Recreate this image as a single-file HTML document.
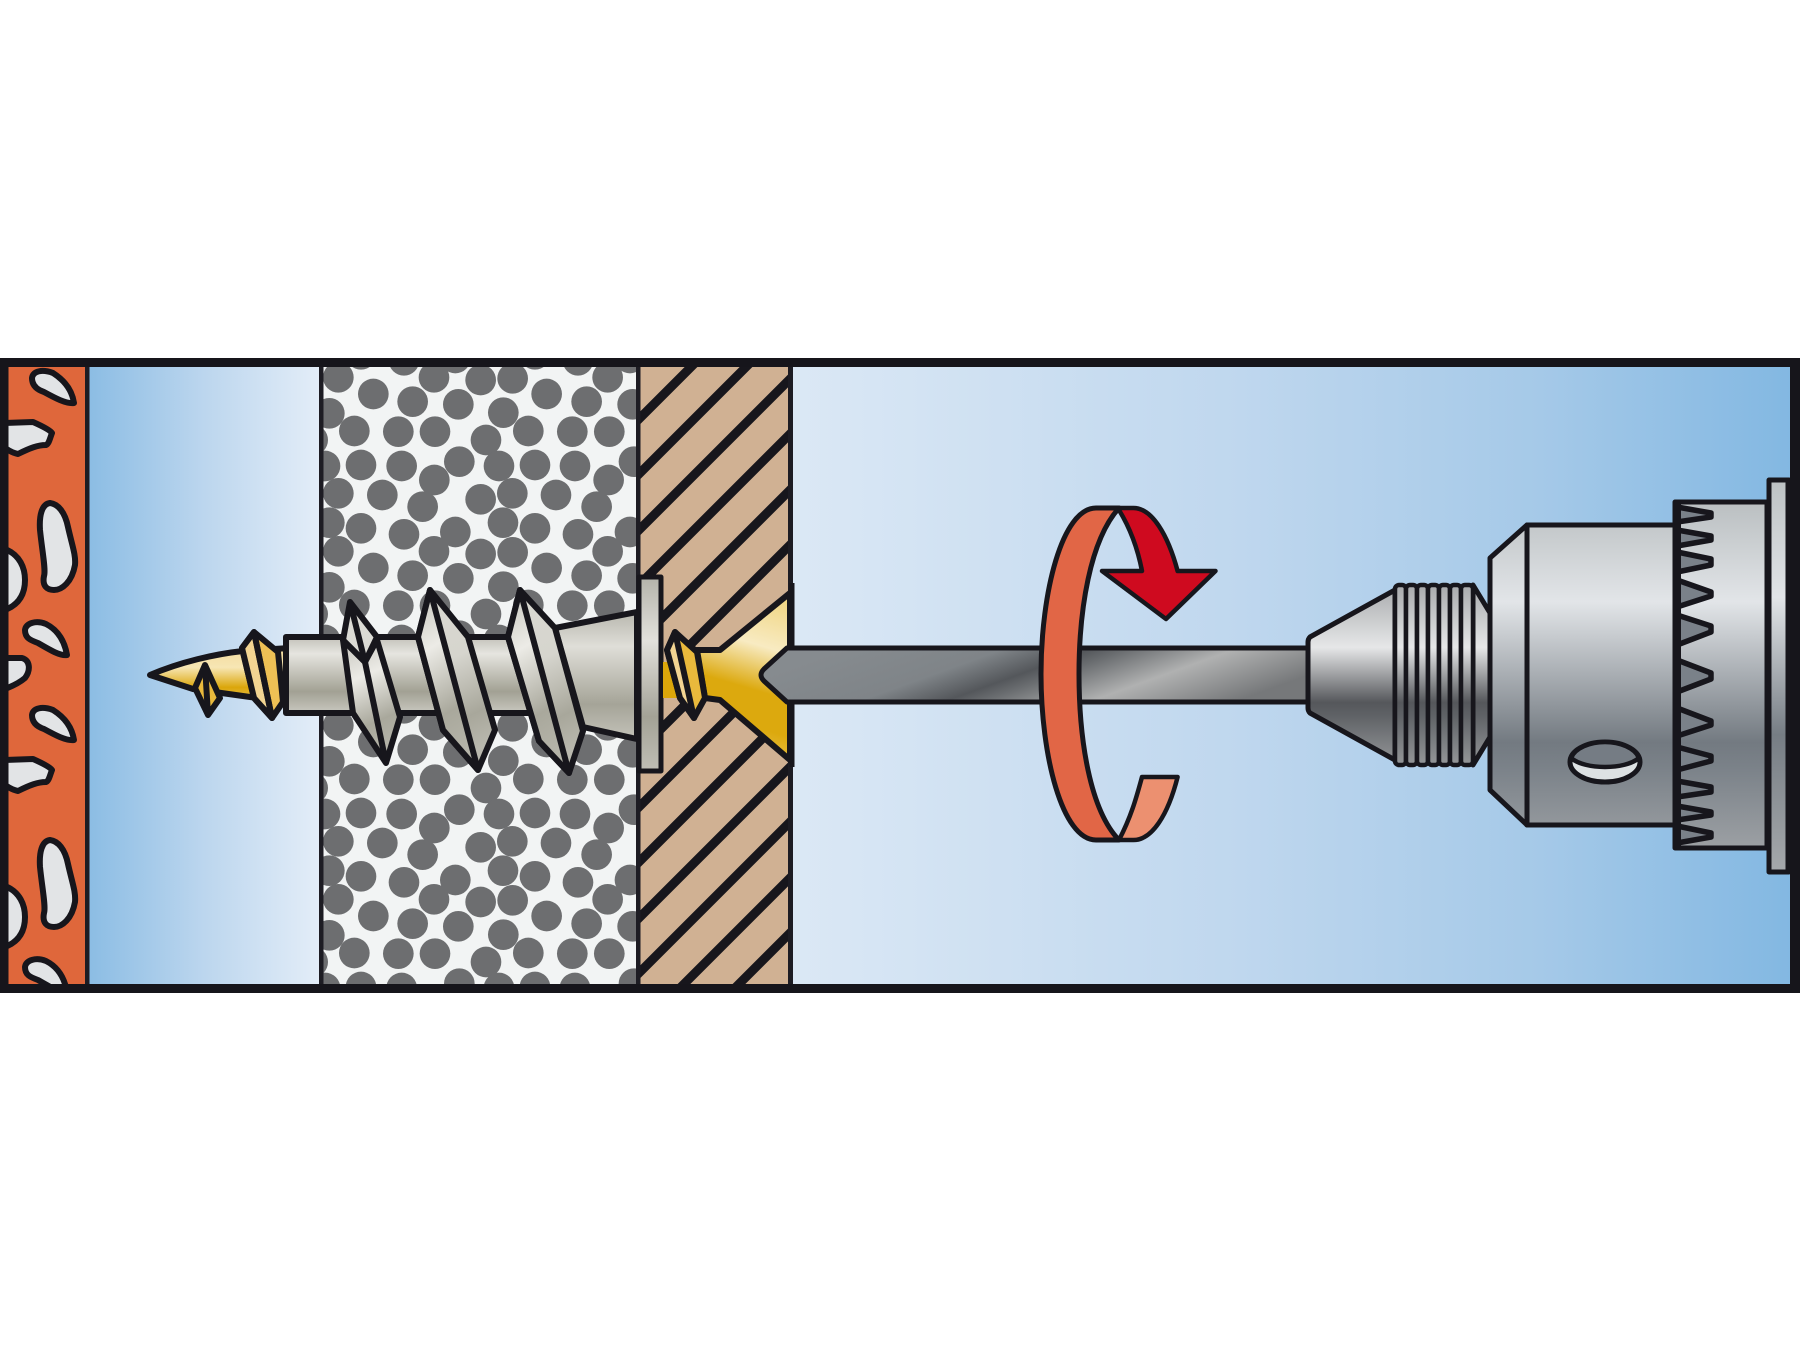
<!DOCTYPE html>
<html><head><meta charset="utf-8"><style>html,body{margin:0;padding:0;background:#fff}svg{display:block}</style></head><body>
<svg xmlns="http://www.w3.org/2000/svg" width="1800" height="1350" viewBox="0 0 1800 1350">
<defs>
<linearGradient id="b1" x1="90" x2="319" y1="0" y2="0" gradientUnits="userSpaceOnUse"><stop offset="0" stop-color="#8cbde4"/><stop offset=".5" stop-color="#bcd6ee"/><stop offset="1" stop-color="#e3edf8"/></linearGradient>
<linearGradient id="b2" x1="793" x2="1790" y1="0" y2="0" gradientUnits="userSpaceOnUse"><stop offset="0" stop-color="#dbe8f5"/><stop offset=".45" stop-color="#bfd7ee"/><stop offset=".75" stop-color="#a5c9e8"/><stop offset="1" stop-color="#83b8e2"/></linearGradient>
<linearGradient id="gold" x1="0" x2="0" y1="650" y2="700" gradientUnits="userSpaceOnUse"><stop offset="0" stop-color="#f3dc9f"/><stop offset=".35" stop-color="#f7e6b4"/><stop offset=".75" stop-color="#dba60a"/><stop offset="1" stop-color="#e8c050"/></linearGradient>
<linearGradient id="goldh" x1="760" y1="590" x2="710" y2="760" gradientUnits="userSpaceOnUse"><stop offset="0" stop-color="#f0d480"/><stop offset=".3" stop-color="#f8ebc2"/><stop offset=".55" stop-color="#dca90e"/><stop offset=".75" stop-color="#dca90e"/><stop offset="1" stop-color="#edcb62"/></linearGradient>
<linearGradient id="st" x1="0" x2="0" y1="637" y2="713" gradientUnits="userSpaceOnUse"><stop offset="0" stop-color="#c2c1b9"/><stop offset=".22" stop-color="#e6e5e0"/><stop offset=".72" stop-color="#a2a194"/><stop offset="1" stop-color="#c9c8c0"/></linearGradient>
<linearGradient id="cone" x1="0" x2="0" y1="612" y2="740" gradientUnits="userSpaceOnUse"><stop offset="0" stop-color="#b8b7ae"/><stop offset=".27" stop-color="#dfded8"/><stop offset=".72" stop-color="#a5a498"/><stop offset="1" stop-color="#c4c3ba"/></linearGradient>
<linearGradient id="fl" x1="0" x2="0" y1="577" y2="771" gradientUnits="userSpaceOnUse"><stop offset="0" stop-color="#b4b3aa"/><stop offset=".33" stop-color="#e2e1dc"/><stop offset=".72" stop-color="#a3a296"/><stop offset="1" stop-color="#c0bfb6"/></linearGradient>
<linearGradient id="th1" x1="0" y1="0" x2=".2" y2="1"><stop offset="0" stop-color="#c5c4bc"/><stop offset=".35" stop-color="#ecebe6"/><stop offset=".75" stop-color="#a9a89c"/><stop offset="1" stop-color="#b5b4a9"/></linearGradient>
<linearGradient id="th2" x1="0" y1="0" x2=".2" y2="1"><stop offset="0" stop-color="#dad9d2"/><stop offset=".45" stop-color="#d6d5ce"/><stop offset=".8" stop-color="#a8a79b"/><stop offset="1" stop-color="#b9b8ae"/></linearGradient>
<linearGradient id="bit" x1="770" y1="675" x2="832" y2="847" gradientUnits="userSpaceOnUse"><stop offset="0" stop-color="#868b8f"/><stop offset=".3" stop-color="#7f8488"/><stop offset=".46" stop-color="#54575b"/><stop offset=".53" stop-color="#6a6d70"/><stop offset=".73" stop-color="#b0b1b1"/><stop offset="1" stop-color="#76787a"/></linearGradient>
<linearGradient id="nose" x1="0" x2="0" y1="583" y2="767" gradientUnits="userSpaceOnUse"><stop offset="0" stop-color="#a6a8aa"/><stop offset=".35" stop-color="#e6e7e8"/><stop offset=".65" stop-color="#55575b"/><stop offset=".72" stop-color="#5f6266"/><stop offset="1" stop-color="#97999b"/></linearGradient>
<linearGradient id="col" x1="0" x2="0" y1="502" y2="872" gradientUnits="userSpaceOnUse"><stop offset="0" stop-color="#babfc1"/><stop offset=".27" stop-color="#e2e5e8"/><stop offset=".65" stop-color="#737a81"/><stop offset=".72" stop-color="#7b8289"/><stop offset="1" stop-color="#a6a9ac"/></linearGradient>
<linearGradient id="bk" x1="0" x2="0" y1="480" y2="872" gradientUnits="userSpaceOnUse"><stop offset="0" stop-color="#bcc1c3"/><stop offset=".3" stop-color="#e2e5e8"/><stop offset=".65" stop-color="#767d84"/><stop offset="1" stop-color="#a6a9ac"/></linearGradient>
<clipPath id="cg"><rect x="323" y="367" width="314" height="617"/></clipPath>
<clipPath id="cw"><rect x="640" y="367" width="150" height="617"/></clipPath>
<clipPath id="cb"><rect x="8" y="367" width="78" height="617"/></clipPath>
<g id="tile" fill="#6d6e70" transform="translate(320 360) scale(.3333)">
<circle cx="55" cy="52" r="46"/><circle cx="160" cy="102" r="46"/><circle cx="278" cy="125" r="46"/><circle cx="342" cy="52" r="46"/><circle cx="415" cy="133" r="46"/><circle cx="482" cy="60" r="46"/><circle cx="578" cy="55" r="46"/><circle cx="680" cy="102" r="46"/><circle cx="800" cy="125" r="46"/><circle cx="863" cy="52" r="46"/><circle cx="938" cy="133" r="46"/><circle cx="28" cy="160" r="46"/><circle cx="103" cy="213" r="46"/><circle cx="235" cy="215" r="46"/><circle cx="345" cy="215" r="46"/><circle cx="498" cy="240" r="46"/><circle cx="550" cy="158" r="46"/><circle cx="625" cy="213" r="46"/><circle cx="757" cy="215" r="46"/><circle cx="868" cy="215" r="46"/><circle cx="15" cy="318" r="46"/><circle cx="123" cy="315" r="46"/><circle cx="245" cy="318" r="46"/><circle cx="418" cy="305" r="46"/><circle cx="537" cy="318" r="46"/><circle cx="645" cy="315" r="46"/><circle cx="765" cy="318" r="46"/><circle cx="942" cy="305" r="46"/><circle cx="343" cy="360" r="46"/><circle cx="866" cy="360" r="46"/><circle cx="55" cy="400" r="46"/><circle cx="187" cy="405" r="46"/><circle cx="308" cy="440" r="46"/><circle cx="482" cy="418" r="46"/><circle cx="577" cy="400" r="46"/><circle cx="708" cy="405" r="46"/><circle cx="830" cy="440" r="46"/><circle cx="28" cy="488" r="46"/><circle cx="123" cy="505" r="46"/><circle cx="252" cy="523" r="46"/><circle cx="406" cy="516" r="46"/><circle cx="549" cy="488" r="46"/><circle cx="645" cy="505" r="46"/><circle cx="774" cy="523" r="46"/><circle cx="930" cy="516" r="46"/><circle cx="-22" cy="240" r="46"/>
</g>
<g id="stones" fill="#e2e4e6" stroke="#17161c" stroke-width="6" stroke-linejoin="round">
<path d="M32,18 C33,11 42,9 53,13 C64,20 72,30 74,43 C66,44 55,38 44,32 C38,30 32,26 32,18Z"/>
<path d="M5,63 L33,62 C42,66 50,70 52,73 C50,78 49,84 46,85 C38,85 30,88 18,94 C12,93 8,90 5,88Z"/>
<path d="M50,143 C58,144 65,152 68,167 C72,185 76,195 75,205 C72,222 62,230 54,230 C47,230 42,226 44,216 C46,210 42,190 40,170 C39,155 42,144 50,143Z"/>
<path d="M5,189 C20,195 25,208 25,220 C25,235 18,245 5,250Z"/>
<path d="M25,270 C26,263 36,260 46,264 C56,269 64,278 67,295 C60,296 50,290 38,283 C30,280 25,278 25,270Z"/>
<path d="M5,298 L22,298 C30,300 31,310 25,318 C18,324 10,327 5,329Z"/>
</g>
</defs>
<rect width="1800" height="1350" fill="#fff"/>
<!-- brick -->
<rect x="8" y="360" width="80" height="630" fill="#df673b"/>
<g clip-path="url(#cb)"><use href="#stones" transform="translate(0 360)"/><use href="#stones" transform="translate(0 697)"/></g>
<!-- blue -->
<rect x="88" y="360" width="233" height="630" fill="url(#b1)"/>
<rect x="790" y="360" width="1005" height="630" fill="url(#b2)"/>
<!-- gravel -->
<rect x="323" y="360" width="316" height="630" fill="#f2f4f4"/>
<g clip-path="url(#cg)">
<use href="#tile" y="-174"/><use href="#tile"/><use href="#tile" y="174"/><use href="#tile" y="348"/><use href="#tile" y="522"/>
</g>
<!-- wood -->
<rect x="638" y="360" width="152" height="630" fill="#d0b193"/>
<g clip-path="url(#cw)" stroke="#17161c" stroke-width="9">
<line x1="630" y1="428" x2="800" y2="258"/><line x1="630" y1="483" x2="800" y2="313"/><line x1="630" y1="539" x2="800" y2="369"/><line x1="630" y1="594" x2="800" y2="424"/><line x1="630" y1="650" x2="800" y2="480"/><line x1="630" y1="705" x2="800" y2="535"/><line x1="630" y1="760" x2="800" y2="590"/><line x1="630" y1="816" x2="800" y2="646"/><line x1="630" y1="871" x2="800" y2="701"/><line x1="630" y1="927" x2="800" y2="757"/><line x1="630" y1="982" x2="800" y2="812"/><line x1="630" y1="1038" x2="800" y2="868"/><line x1="630" y1="1093" x2="800" y2="923"/>
</g>
<!-- dividers -->
<g fill="#1d1c23"><rect x="85" y="360" width="4.5" height="630"/><rect x="319" y="360" width="4.5" height="630"/><rect x="636" y="360" width="4.5" height="630"/><rect x="788" y="360" width="5" height="630"/></g>
<!-- screw -->
<g stroke="#17161c" stroke-width="6" stroke-linejoin="round">
<path d="M150,675 C180,662 215,654 243,651 L290,648 L290,702 L250,697 L193,689 Z" fill="url(#gold)"/>
<path d="M205,665 L195,688 L208,715 L220,698 Z" fill="#e9b93c"/><line x1="205" y1="665" x2="208" y2="715"/>
<path d="M254,632 L242,648 L254,698 L272,718 L283,702 L278,652 Z" fill="#eec055"/>
<path d="M254,632 L242,648 L254,698 L272,718 Z" fill="#f2d492"/><line x1="254" y1="632" x2="272" y2="718"/>
<rect x="286" y="637" width="170" height="76" fill="url(#st)"/>
<rect x="440" y="637" width="150" height="76" fill="url(#st)"/>
<path d="M555,628 L637,612 L637,739 L583,727 Z" fill="url(#cone)"/>
<path d="M343,640 L353,713 L386,763 L400,717 L377,640 L365,662 Z" fill="url(#th1)"/>
<line x1="365" y1="662" x2="386" y2="763"/>
<path d="M343,640 L350,602 L377,637 L365,662 Z" fill="#dcdbd5"/><line x1="350" y1="602" x2="365" y2="662"/>
<path d="M430,590 L418,637 L443,730 L478,770 L495,730 L468,637 Z" fill="url(#th2)"/>
<path d="M430,590 L418,637 L443,730 L478,770 Z" fill="url(#th1)"/>
<path d="M520,590 L508,637 L539,741 L569,773 L583,731 L555,628 Z" fill="url(#th2)"/>
<path d="M520,590 L508,637 L539,741 L569,773 Z" fill="url(#th1)"/>
<rect x="639" y="577" width="22" height="194" fill="url(#fl)" stroke-width="5"/>
<!-- screw head -->
<path d="M663,662 L673,662 L680,698 L663,698 Z" fill="#dba60a" stroke="none"/>
<path d="M697,650 L720,650 L790,593 L790,760 L720,700 L705,698 Z" fill="url(#goldh)"/>
<path d="M675,632 L667,650 L680,698 L694,718 L705,698 L697,652 Z" fill="#e9b93c"/>
<path d="M675,632 L667,650 L680,698 L694,718 Z" fill="#f2d492"/>
<line x1="792" y1="583" x2="792" y2="767" stroke-width="5"/>
<!-- bit -->
<path d="M1310,648 L787,648 L764,669 Q758,675 764,681 L787,702 L1310,702 Z" fill="url(#bit)" stroke-width="5"/>
<!-- rotation arrow -->
<path d="M1119,840 C1132,815 1137,795 1142,777 L1177.6,777 C1168,815 1152,840 1133.5,840 Z" fill="#ec9070" stroke-width="4.5"/>
<path d="M1119,510 C1130,528 1138,550 1142,571 L1102,571 L1166,619 L1215.5,571 L1177.6,571 C1168,535 1152,508 1133.5,508 L1119,508 Z" fill="#cf0a1f" stroke-width="4.5"/>
<path d="M1096,508 L1119,508 C1090,540 1079,610 1079,674 C1079,740 1090,810 1119,840 L1096,840 C1062,840 1041,755 1041,674 C1041,593 1062,508 1096,508 Z" fill="#e16646" stroke-width="5"/>
<!-- chuck -->
<path d="M1473,585 L1490,613 L1490,737 L1473,765 Z" fill="url(#nose)" stroke-width="5"/>
<path d="M1395,590 L1310,637 Q1308,639 1308,642 L1308,708 Q1308,711 1310,713 L1395,760 Z" fill="url(#nose)" stroke-width="5"/>
<g fill="url(#nose)" stroke-width="4.5">
<rect x="1395" y="585" width="11" height="180" rx="4"/><rect x="1406" y="585" width="11" height="180" rx="4"/><rect x="1417" y="585" width="11" height="180" rx="4"/><rect x="1428" y="585" width="11" height="180" rx="4"/><rect x="1439" y="585" width="11" height="180" rx="4"/><rect x="1450" y="585" width="11" height="180" rx="4"/><rect x="1461" y="585" width="12" height="180" rx="4"/>
</g>
<path d="M1490,558 L1527,525 L1527,825 L1490,790 Z" fill="url(#col)" stroke-width="5"/>
<rect x="1527" y="525" width="148" height="300" fill="url(#col)" stroke-width="5"/>
<rect x="1675" y="502" width="92" height="346" fill="url(#col)" stroke-width="5"/>
<g fill="#7a8189" stroke-width="5.5">
<path d="M1677,507 L1711,513 L1711,517 L1677,522 Z"/>
<path d="M1677,530 L1711,536 L1711,540 L1677,546 Z"/>
<path d="M1677,552 L1711,559 L1711,565 L1677,572 Z"/>
<path d="M1677,580 L1711,592 L1711,596 L1677,607 Z"/>
<path d="M1677,615 L1711,626 L1711,632 L1677,645 Z"/>
<path d="M1677,660 L1711,673 L1711,679 L1677,692 Z"/>
<path d="M1677,708 L1711,721 L1711,725 L1677,736 Z"/>
<path d="M1677,747 L1711,756 L1711,761 L1677,770 Z"/>
<path d="M1677,781 L1711,787 L1711,792 L1677,797 Z"/>
<path d="M1677,806 L1711,812 L1711,815 L1677,820 Z"/>
<path d="M1677,826 L1711,833 L1711,837 L1677,843 Z"/>
</g>
<line x1="1677" y1="502" x2="1677" y2="848" stroke-width="8"/>
<rect x="1769" y="480" width="20" height="392" fill="url(#bk)" stroke-width="5"/>
<line x1="1787" y1="480" x2="1787" y2="872" stroke-width="3"/>
<ellipse cx="1605" cy="762" rx="35" ry="20" fill="#dde1e3" stroke-width="5"/>
<path d="M1571,758 C1575,748 1590,742 1605,742 C1620,742 1635,748 1639,758 C1625,770 1585,770 1571,758 Z" fill="#757c84" stroke-width="4.5"/>
</g>
<!-- frame -->
<g fill="#16151b"><rect x="0" y="358" width="1800" height="9"/><rect x="0" y="984" width="1800" height="9"/><rect x="0" y="358" width="8.5" height="635"/><rect x="1790" y="358" width="10" height="635"/></g>
</svg>
</body></html>
